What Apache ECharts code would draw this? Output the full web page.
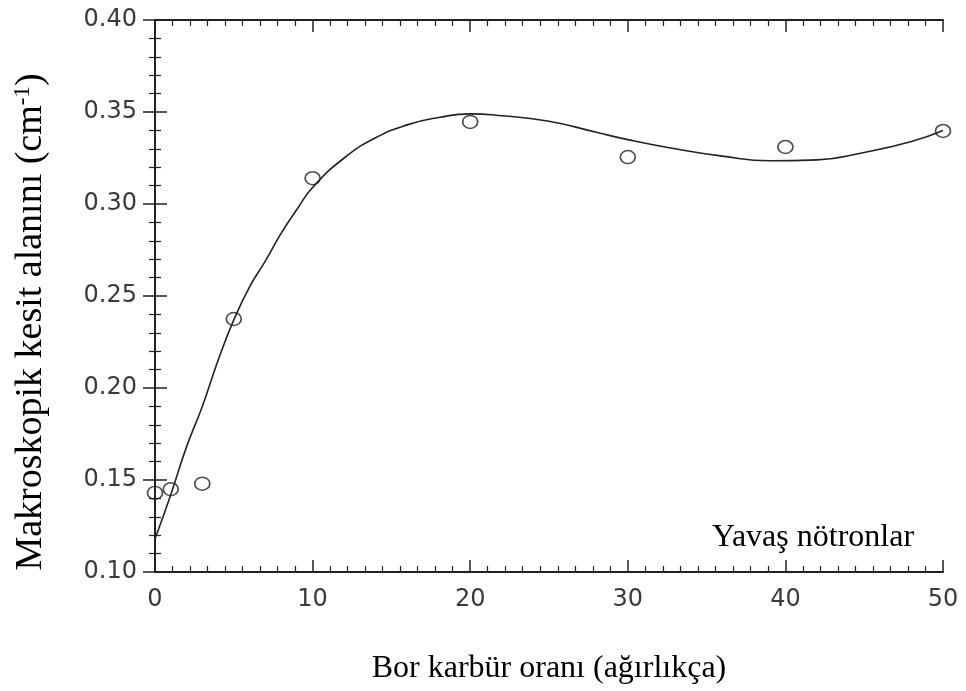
<!DOCTYPE html>
<html><head><meta charset="utf-8">
<script src="https://cdn.jsdelivr.net/npm/echarts@6/dist/echarts.min.js"></script>
<style>html,body{margin:0;padding:0;background:#fff}#c{width:966px;height:691px}</style>
</head><body><div id="c"></div>
<script>
const pointX = [0, 1, 3, 5, 10, 20, 30, 40, 50];
const pointY = [0.143, 0.145, 0.148, 0.2375, 0.314, 0.3446, 0.3255, 0.331, 0.3397];
const curveX = [0, 1, 2, 3, 4, 5, 6, 7, 8, 9, 10, 12, 14, 16, 18, 20, 22, 25, 28, 30, 33, 36, 39, 42, 45, 48, 50];
const curveY = [0.118, 0.142, 0.168, 0.190, 0.215, 0.237, 0.255, 0.269, 0.284, 0.297, 0.309, 0.325, 0.336, 0.343, 0.347, 0.349, 0.348, 0.345, 0.339, 0.335, 0.330, 0.326, 0.3235, 0.324, 0.328, 0.334, 0.340];
const xTicks = [0, 10, 20, 30, 40, 50];
const yTicks = [0.10, 0.15, 0.20, 0.25, 0.30, 0.35, 0.40];
const xTitle = 'Bor karbür oranı (ağırlıkça)';
const yTitle = 'Makroskopik kesit alanını (cm{sup|-1})';
const note = 'Yavaş nötronlar';

const serif = '"Liberation Serif", "DejaVu Serif", serif';
const sans = '"DejaVu Sans", "Liberation Sans", sans-serif';
function tick(len) { return { show: true, inside: true, length: len, lineStyle: { color: '#222', width: 1.5 } }; }
function minor(n, len) { return { show: true, splitNumber: n, length: len, lineStyle: { color: '#222', width: 1.2 } }; }
function aline() { return { show: true, lineStyle: { color: '#222', width: 2 } }; }

const chart = echarts.init(document.getElementById('c'));
chart.setOption({
  animation: false,
  backgroundColor: '#fff',
  grid: { left: 155, right: 23, top: 20, bottom: 119, containLabel: false },
  xAxis: [{
    type: 'value', min: 0, max: 50, interval: 10, position: 'bottom',
    axisLine: aline(), axisTick: tick(12), minorTick: minor(9, 6),
    splitLine: { show: false }, minorSplitLine: { show: false },
    axisLabel: { fontFamily: sans, fontSize: 24, color: '#3a3a3a', margin: 16,
      formatter: v => xTicks.includes(v) ? String(v) : '' }
  }, {
    type: 'value', min: 0, max: 50, interval: 10, position: 'top',
    axisLine: aline(), axisTick: tick(12), minorTick: minor(9, 6),
    splitLine: { show: false }, axisLabel: { show: false }
  }],
  yAxis: [{
    type: 'value', min: 0.10, max: 0.40, interval: 0.05, position: 'left',
    axisLine: aline(), axisTick: tick(12), minorTick: minor(5, 6),
    splitLine: { show: false }, minorSplitLine: { show: false },
    axisLabel: { fontFamily: sans, fontSize: 24, color: '#3a3a3a', margin: 18,
      formatter: v => { const t = yTicks.find(a => Math.abs(a - v) < 1e-6); return t !== undefined ? t.toFixed(2) : ''; } }
  }, {
    type: 'value', min: 0.10, max: 0.40, interval: 0.05, position: 'right',
    axisLine: aline(), axisTick: tick(12), minorTick: minor(5, 6),
    splitLine: { show: false }, axisLabel: { show: false }
  }],
  series: [{
    type: 'line', smooth: 0.5, showSymbol: false,
    data: curveX.map((x, i) => [x, curveY[i]]),
    lineStyle: { color: '#222', width: 1.6 }, z: 2
  }, {
    type: 'scatter', symbol: 'circle', symbolSize: [15, 13],
    data: pointX.map((x, i) => [x, pointY[i]]),
    itemStyle: { color: 'rgba(255,255,255,0)', borderColor: '#222', borderWidth: 1.6 }, z: 3
  }],
  graphic: [{
    type: 'text', x: 549, y: 669,
    style: { text: xTitle, fontFamily: serif, fontSize: 32, fill: '#000', textAlign: 'center', textVerticalAlign: 'middle' }
  }, {
    type: 'text', x: 31, y: 322, rotation: Math.PI / 2,
    style: { text: yTitle, fontFamily: serif, fontSize: 38, fill: '#000', textAlign: 'center', textVerticalAlign: 'middle',
      rich: { sup: { fontFamily: serif, fontSize: 23, fill: '#000', padding: [0, 0, 17, 0] } } }
  }, {
    type: 'text', x: 712, y: 538,
    style: { text: note, fontFamily: serif, fontSize: 32, fill: '#000', textAlign: 'left', textVerticalAlign: 'middle' }
  }]
});
</script></body></html>
